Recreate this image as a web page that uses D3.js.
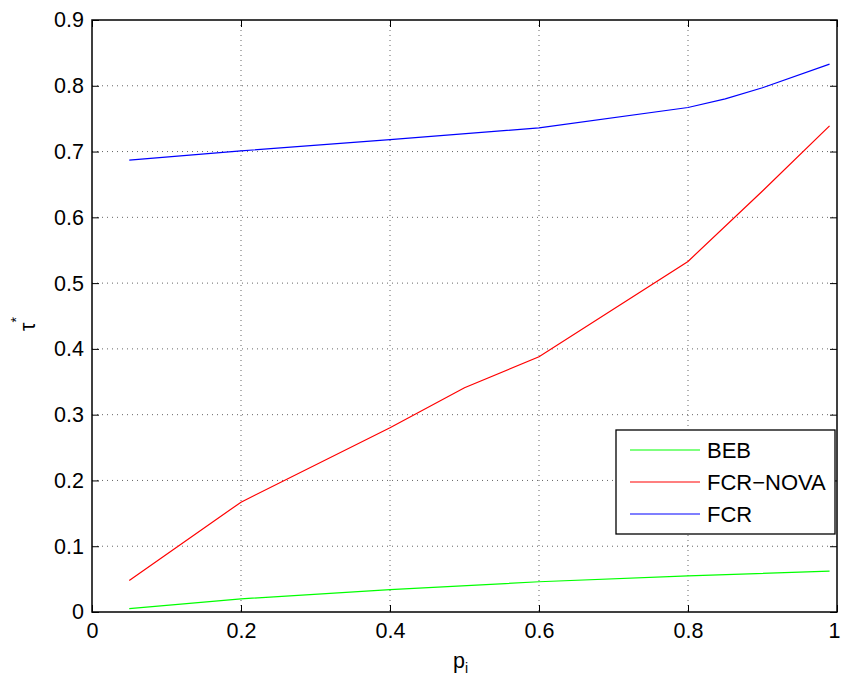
<!DOCTYPE html>
<html><head><meta charset="utf-8">
<script src="https://cdn.jsdelivr.net/npm/d3@7"></script>
<style>body{margin:0;background:#fff}svg{display:block}text{font-family:"Liberation Sans",Arial,Helvetica,sans-serif}</style>
</head><body><svg id="c" width="842" height="683"></svg>
<script>
const xTicks=[0,0.2,0.4,0.6,0.8,1];
const xTickLabels=["0","0.2","0.4","0.6","0.8","1"];
const yTicks=[0,0.1,0.2,0.3,0.4,0.5,0.6,0.7,0.8,0.9];
const yTickLabels=["0","0.1","0.2","0.3","0.4","0.5","0.6","0.7","0.8","0.9"];
const bebX=[0.05,0.2,0.4,0.6,0.8,0.99];
const bebY=[0.005,0.020,0.034,0.046,0.055,0.062];
const novaX=[0.05,0.2,0.4,0.5,0.6,0.8,0.9,0.99];
const novaY=[0.048,0.167,0.280,0.341,0.388,0.533,0.640,0.739];
const fcrX=[0.05,0.2,0.4,0.6,0.8,0.85,0.9,0.99];
const fcrY=[0.687,0.701,0.718,0.736,0.767,0.780,0.797,0.833];
const seriesNames=["BEB","FCR-NOVA","FCR"];
const seriesColors=["#00ff00","#ff0000","#0000ff"];

const svg=d3.select("#c");
const L=92,R=837,T=20,B=612;
const x=d3.scaleLinear().domain([0,1]).range([L,R]);
const y=d3.scaleLinear().domain([0,0.9]).range([B,T]);
const g=svg.append("g");
// grid
g.selectAll(".gx").data(xTicks.slice(1,-1)).enter().append("line")
 .attr("x1",d=>x(d)).attr("x2",d=>x(d)).attr("y1",T).attr("y2",B)
 .attr("stroke","#000").attr("stroke-width",1).attr("stroke-dasharray","1,4").attr("opacity",0.6);
g.selectAll(".gy").data(yTicks.slice(1,-1)).enter().append("line")
 .attr("y1",d=>y(d)).attr("y2",d=>y(d)).attr("x1",L).attr("x2",R)
 .attr("stroke","#000").attr("stroke-width",1).attr("stroke-dasharray","1,4").attr("opacity",0.6);
// axes
const fs=21.5;
const ax=d3.axisBottom(x).tickValues(xTicks).tickFormat((d,i)=>xTickLabels[i]).tickSizeInner(-7).tickSizeOuter(0).tickPadding(11);
const ay=d3.axisLeft(y).tickValues(yTicks).tickFormat((d,i)=>yTickLabels[i]).tickSizeInner(-7).tickSizeOuter(0).tickPadding(8);
const axT=d3.axisTop(x).tickValues(xTicks).tickFormat("").tickSizeInner(-7).tickSizeOuter(0);
const ayR=d3.axisRight(y).tickValues(yTicks).tickFormat("").tickSizeInner(-7).tickSizeOuter(0);
function style(s){s.select(".domain").remove();s.selectAll("line").attr("stroke","#000");s.selectAll("text").attr("font-size",fs).attr("fill","#000").attr("font-family",'"Liberation Sans",Arial,sans-serif');}
const gx=svg.append("g").attr("transform",`translate(0,${B})`).call(ax).call(style);
gx.selectAll(".tick text").filter(d=>d===1).attr("dx",-3);
svg.append("g").attr("transform",`translate(${L},0)`).call(ay).call(style);
svg.append("g").attr("transform",`translate(0,${T})`).call(axT).call(style);
svg.append("g").attr("transform",`translate(${R},0)`).call(ayR).call(style);
// lines
const line=d3.line().x(d=>x(d[0])).y(d=>y(d[1]));
const series=[[bebX,bebY],[novaX,novaY],[fcrX,fcrY]];
series.forEach((s,i)=>{
 svg.append("path").datum(s[0].map((v,j)=>[v,s[1][j]])).attr("d",line)
  .attr("fill","none").attr("stroke",seriesColors[i]).attr("stroke-width",1.2);
});
svg.append("rect").attr("x",L).attr("y",T).attr("width",R-L).attr("height",B-T).attr("fill","none").attr("stroke","#000").attr("stroke-width",1.5);
// legend
const lg=svg.append("g");
lg.append("rect").attr("x",616).attr("y",430).attr("width",219).attr("height",104).attr("fill","#fff").attr("stroke","#000").attr("stroke-width",1.3);
seriesNames.forEach((n,i)=>{
 const yy=450+i*32;
 lg.append("line").attr("x1",630).attr("x2",700).attr("y1",yy).attr("y2",yy).attr("stroke",seriesColors[i]).attr("stroke-width",1.2);
 lg.append("text").attr("x",707).attr("y",yy+7.5).attr("font-size",22).text(n==="FCR-NOVA"?"FCR\u2212NOVA":n);
});
// axis labels
const xl=svg.append("text").attr("x",453).attr("y",668).attr("font-size",fs);
xl.append("tspan").text("p");
xl.append("tspan").attr("font-size",14).attr("dy",5).text("i");
const yl=svg.append("text").attr("transform","translate(35,331) rotate(-90)").attr("font-size",fs);
yl.append("tspan").text("\u03c4");
yl.append("tspan").attr("font-size",14).attr("dy",-14).text("*");
</script></body></html>
